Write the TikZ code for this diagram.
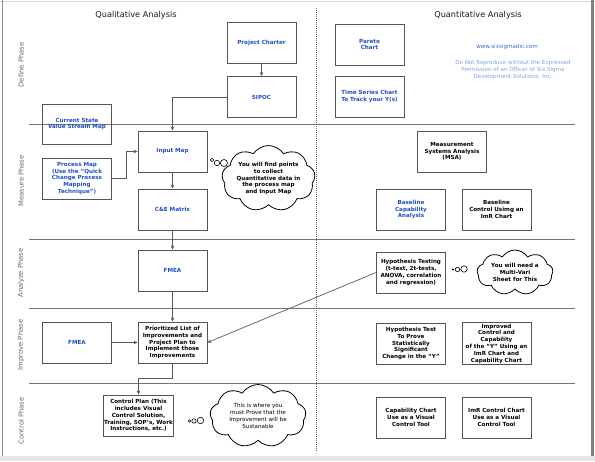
\documentclass[tikz,border=0pt]{standalone}
\usepackage{fontspec}
\setmainfont{DejaVu Sans}
\usetikzlibrary{shapes.symbols,arrows.meta}
\definecolor{txtblue}{HTML}{1E4FC8}
\definecolor{webblue}{HTML}{3A6BD0}
\definecolor{lightblue}{HTML}{7FA3E6}
\definecolor{boxline}{HTML}{555555}
\tikzset{
  boxnode/.style={draw=boxline,line width=0.9pt,minimum width=69pt,minimum height=41pt,align=center,inner sep=1pt,font=\bfseries\fontsize{5.6}{6.8}\selectfont},
  bluebox/.style={boxnode,text=txtblue},
  conn/.style={draw=black!65,line width=0.7pt},
  arr/.style={conn,-{Stealth[length=4pt,width=3.6pt]}},
  lane/.style={draw=black!55,line width=0.9pt},
  phase/.style={rotate=90,text=black!60,font=\fontsize{6.8}{8}\selectfont},
  title/.style={font=\fontsize{8.2}{10}\selectfont,text=black!90},
  thought/.style={cloud,cloud ignores aspect,draw=black,line width=0.8pt,cloud puffs=9,cloud puff arc=115,align=center,inner sep=0pt},
  bub/.style={draw=black,line width=0.6pt}
}
\begin{document}
\begin{tikzpicture}[x=1pt,y=-1pt]
\useasboundingbox (0,0) rectangle (595,461);
% frame
\fill[black!10] (0,456) rectangle (595,461);
\draw[black!15,line width=0.6pt] (0,1) -- (595,1);
\draw[black!45,line width=1.4pt] (2.5,0) -- (2.5,456);
\draw[black!50,line width=2.2pt] (592.5,0) -- (592.5,456);
% lanes
\draw[lane] (29,124) -- (575,124);
\draw[lane] (29,239) -- (575,239);
\draw[lane] (29,308) -- (575,308);
\draw[lane] (29,383) -- (575,383);
\draw[black!60,line width=0.8pt,dash pattern=on 1pt off 1pt] (316,8) -- (316,452);
% titles
\node[title] (tqual) at (136,15) {Qualitative Analysis};
\node[title] (tquan) at (478,15) {Quantitative Analysis};
% phases
\node[phase] (pdef) at (21,65) {Define Phase};
\node[phase] (pmea) at (21,181) {Measure Phase};
\node[phase] (pana) at (21,273) {Analyze Phase};
\node[phase] (pimp) at (21,345) {Improve Phase};
\node[phase] (pcon) at (21,421) {Control Phase};
% web text
\node[text=webblue,font=\fontsize{5.6}{6.8}\selectfont] (web) at (507,47) {www.sixsigmadsi.com};
\node[text=lightblue,align=center,font=\fontsize{5.6}{7.4}\selectfont] (disc) at (513,70) {Do Not Reproduce without the Expressed\\Permission of an Officer of Six Sigma\\Development Solutions, Inc.};
% boxes qualitative
\node[bluebox] (charter) at (261.5,42.5) {Project Charter};
\node[bluebox] (sipoc) at (261.5,97) {SIPOC};
\node[bluebox,minimum height=40pt] (cvsm) at (77,124) {Current State\\Value Stream Map};
\node[bluebox] (inputmap) at (172.5,151.5) {Input Map};
\node[bluebox] (procmap) at (77,178.5) {Process Map\\(Use the ``Quick\\Change Process\\Mapping\\Technique'')};
\node[bluebox] (ce) at (172.5,209.5) {C\&E Matrix};
\node[bluebox] (fmeaA) at (172.5,270.5) {FMEA};
\node[boxnode] (prio) at (172.5,342.5) {Prioritized List of\\Improvements and\\Project Plan to\\Implement those\\Improvements};
\node[bluebox] (fmeaI) at (77,342.5) {FMEA};
\node[boxnode] (cplan) at (138.5,415.5) {Control Plan (This\\includes Visual\\Control Solution,\\Training, SOP's, Work\\Instructions, etc.)};
% boxes quantitative
\node[bluebox] (pareto) at (369.5,44.5) {Pareto\\Chart};
\node[bluebox] (timeser) at (369.5,96.5) {Time Series Chart\\To Track your Y(s)};
\node[boxnode] (msa) at (452,151.5) {Measurement\\Systems Analysis\\(MSA)};
\node[bluebox] (bcap) at (411,209.5) {Baseline\\Capability\\Analysis};
\node[boxnode] (bctrl) at (496.5,209.5) {Baseline\\Control Usimg an\\ImR Chart};
\node[boxnode] (hyp) at (411,272.5) {Hypothesis Testing\\(t-test, 2t-tests,\\ANOVA, correlation\\and regression)};
\node[boxnode] (hyptest) at (411,343.5) {Hypothesis Test\\To Prove\\Statistically\\Significant\\Change in the ``Y''};
\node[boxnode] (impr) at (496.5,343.5) {Improved\\Control  and\\Capability\\of the ``Y'' Using an\\ImR Chart and\\Capability Chart};
\node[boxnode] (capch) at (411,417.5) {Capability Chart\\Use as a Visual\\Control Tool};
\node[boxnode] (imrch) at (496.5,417.5) {ImR Control Chart\\Use as a Visual\\Control Tool};
% connectors
\draw[arr] (charter.south) -- (sipoc.north);
\draw[arr] (sipoc.west) -| (inputmap.north);
\draw[arr] (procmap.east) -- ++(14,0) |- (inputmap.west);
\draw[arr] (inputmap.south) -- (ce.north);
\draw[arr] (ce.south) -- (fmeaA.north);
\draw[arr] (fmeaA.south) -- (prio.north);
\draw[arr] (fmeaI.east) -- (prio.west);
\draw[arr] (hyp.west) -- (prio.east);
\coordinate (bend) at (172.5,378);
\draw[arr] (prio.south) -- (bend) -| (cplan.north);
% clouds
\node[thought,minimum width=89pt,minimum height=66pt,font=\bfseries\fontsize{5.6}{6.8}\selectfont] (cloudM) at (268.5,178.5) {You will find points\\to collect\\Quantitative data in\\the process map\\and Input Map};
\draw[bub] (212,160) circle (1.8);
\draw[bub] (217,163) circle (2.7);
\draw[bub] (224,163) circle (3.5);
\node[thought,minimum width=76pt,minimum height=45pt,font=\bfseries\fontsize{5.6}{6.8}\selectfont] (cloudV) at (515,272.5) {You will need a\\Multi-Vari\\Sheet for This};
\fill (453,269.5) circle (1.2);
\draw[bub] (457.5,269.5) circle (2.2);
\draw[bub] (464,269) circle (3.2);
\node[thought,minimum width=96pt,minimum height=63pt,font=\fontsize{5.6}{6.8}\selectfont] (cloudC) at (258,416) {This is where you\\must Prove that the\\Improvement will be\\Sustanable};
\draw[bub] (189.5,421) circle (1.2);
\draw[bub] (194,421) circle (2.2);
\draw[bub] (200.5,420.5) circle (3.2);
\end{tikzpicture}
\end{document}
